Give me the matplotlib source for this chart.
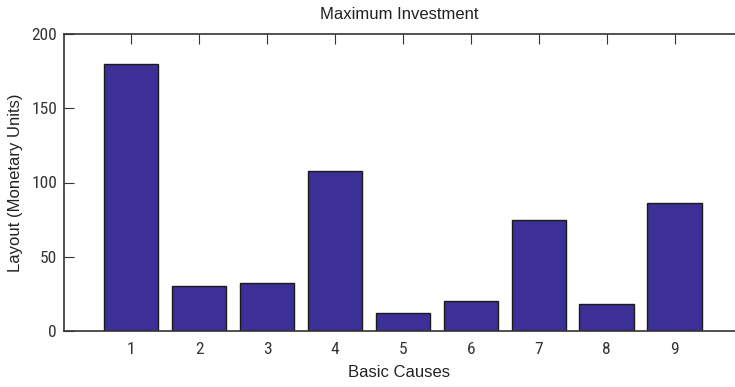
import matplotlib
matplotlib.use("Agg")
import matplotlib.pyplot as plt
from matplotlib import font_manager

categories = ["1", "2", "3", "4", "5", "6", "7", "8", "9"]
values = [180, 30, 32, 108, 12, 20, 75, 18, 86]
yticks = [0, 50, 100, 150, 200]

names = sorted({f.name for f in font_manager.fontManager.ttflist})
narrow = None
for cand in ["Liberation Sans Narrow", "DejaVu Sans Condensed", "Roboto Condensed", "Open Sans Condensed"]:
    if cand in names:
        narrow = cand
        break

fig = plt.figure(figsize=(7.35, 3.87), dpi=100)
ax = fig.add_axes([64/735, 56/387, 1 - 64/735, 297/387])
x = list(range(1, len(values) + 1))
ax.bar(x, values, width=0.8, color="#3c3096", edgecolor="#1a1a1a", linewidth=1.0, zorder=2)
ax.set_xlim(0.01, 9.89)
ax.set_ylim(0, 200)
ax.set_xticks(x)
ax.set_xticklabels(categories)
ax.set_yticks(yticks)
ax.spines["right"].set_visible(False)
for s in ["left", "top", "bottom"]:
    ax.spines[s].set_color("#333333")
    ax.spines[s].set_linewidth(1.2)
ax.tick_params(axis="x", which="both", direction="in", top=True, bottom=False, length=7, color="#333333", pad=8, labelsize=12.5)
ax.tick_params(axis="y", direction="in", length=7, color="#333333", labelsize=12.5, pad=5)
fam = narrow if narrow else "DejaVu Sans"
for lab in ax.get_xticklabels() + ax.get_yticklabels():
    lab.set_fontfamily(fam)
    lab.set_fontstretch("condensed")
    lab.set_color("#333333")
ax.set_title("Maximum Investment", fontsize=12, family="Liberation Sans", color="#222222", pad=11)
ax.set_xlabel("Basic Causes", fontsize=12, family="Liberation Sans", color="#222222", labelpad=6)
ax.set_ylabel("Layout (Monetary Units)", fontsize=12, family="Liberation Sans", color="#222222", labelpad=6)
fig.savefig("out.png", dpi=100)
